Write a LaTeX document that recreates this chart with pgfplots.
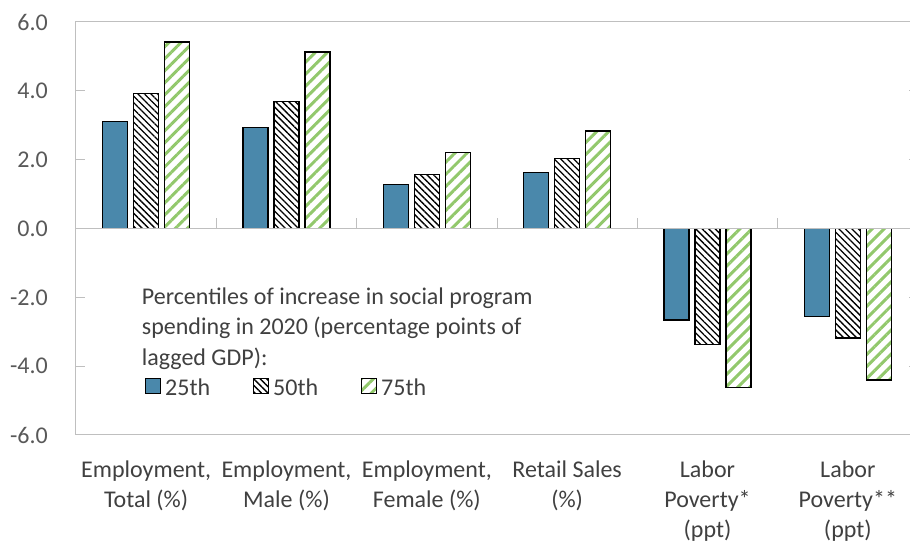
\documentclass[border=0pt]{standalone}
\usepackage{pgfplots}
\pgfplotsset{compat=1.18}
\usepackage{fontspec}
\setmainfont{Carlito}
\usetikzlibrary{patterns.meta}
\definecolor{barblue}{RGB}{74,136,171}
\definecolor{bargreen}{RGB}{146,200,108}
\definecolor{axgray}{RGB}{191,191,191}
\definecolor{txt}{RGB}{64,64,64}
\definecolor{ticktxt}{RGB}{89,89,89}
\pgfplotsset{sqlegend/.style={legend image code/.code={\draw[##1,line width=1pt] (0pt,-5pt) rectangle (15pt,10pt);}}}
\begin{document}
\begin{tikzpicture}
\useasboundingbox (0,0) rectangle (910pt,548pt);
\begin{axis}[
  at={(76pt,113pt)}, anchor=south west, scale only axis,
  width=842pt, height=413pt,
  xmin=-0.5, xmax=5.5, ymin=-6, ymax=6,
  axis line style={axgray, line width=1pt},
  ytick={-6,-4,-2,0,2,4,6},
  ytick style={axgray, line width=1pt},
  tick align=inside, major tick length=9pt,
  /pgf/number format/assume math mode=true,
  scaled y ticks=false,
  yticklabel style={font=\fontsize{24}{29}\selectfont, text=ticktxt, inner sep=0pt, xshift=-28pt,
    /pgf/number format/fixed, /pgf/number format/fixed zerofill, /pgf/number format/precision=1},
  xtick={0,1,2,3,4,5},
  xticklabels={{Employment,\\Total (\%)},{Employment,\\Male (\%)},{Employment,\\Female (\%)},{Retail Sales\\(\%)},{Labor\\Poverty*\\(ppt)},{Labor\\Poverty**\\(ppt)}},
  x tick style={draw=none},
  xticklabel style={align=center, font=\fontsize{24}{30}\selectfont, text=txt, inner sep=0pt, yshift=-26pt},
  legend columns=3,
  legend style={at={(0.082,0.115)}, anchor=west, draw=none, fill=none, inner sep=0pt,
    font=\fontsize{24}{29}\selectfont, text=txt, nodes={inner sep=0pt},
    /tikz/every odd column/.append style={column sep=4pt},
    /tikz/every even column/.append style={column sep=43pt}},
]
\addplot[ybar, bar width=25pt, bar shift=-31pt, fill=barblue, draw=black, line width=1.2pt, sqlegend]
  coordinates {(0,3.11) (1,2.94) (2,1.28) (3,1.63) (4,-2.66) (5,-2.55)};
\addplot[ybar, bar width=25pt, bar shift=0pt, draw=black, line width=1.2pt,
  pattern={Lines[angle=-45,distance=4.6pt,line width=1.3pt]}, pattern color=black, sqlegend]
  coordinates {(0,3.92) (1,3.70) (2,1.57) (3,2.03) (4,-3.37) (5,-3.18)};
\addplot[ybar, bar width=25pt, bar shift=31pt, draw=black, line width=1.2pt,
  pattern={Lines[angle=45,distance=8.5pt,line width=3pt]}, pattern color=bargreen, sqlegend]
  coordinates {(0,5.42) (1,5.13) (2,2.20) (3,2.83) (4,-4.63) (5,-4.40)};
\legend{25th,50th,75th}
\draw[axgray, line width=1pt] (axis cs:-0.5,0) -- (axis cs:5.5,0);
\draw[axgray, line width=1pt] (axis cs:0.5,0) -- ++(0pt,10pt);
\draw[axgray, line width=1pt] (axis cs:1.5,0) -- ++(0pt,10pt);
\draw[axgray, line width=1pt] (axis cs:2.5,0) -- ++(0pt,10pt);
\draw[axgray, line width=1pt] (axis cs:3.5,0) -- ++(0pt,10pt);
\draw[axgray, line width=1pt] (axis cs:4.5,0) -- ++(0pt,10pt);
\node[anchor=north west, align=left, inner sep=0pt, font=\fontsize{24}{30.5}\selectfont, text=txt]
  at (rel axis cs:0.078,0.358) {Percentiles of increase in social program\\spending in 2020 (percentage points of\\lagged GDP):};
\end{axis}
\end{tikzpicture}
\end{document}
